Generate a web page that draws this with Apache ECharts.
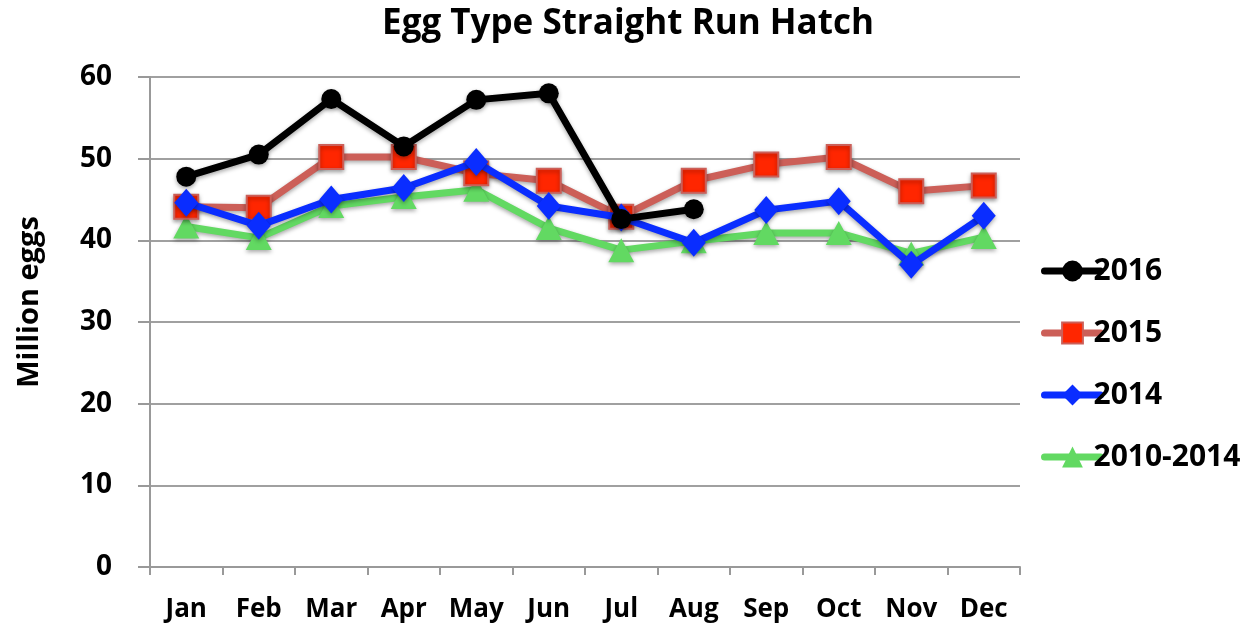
<!DOCTYPE html>
<html><head><meta charset="utf-8">
<script src="https://cdn.jsdelivr.net/npm/echarts@6/dist/echarts.min.js"></script>
<style>html,body{margin:0;padding:0;background:#fff}#c{width:1256px;height:637px}</style>
</head><body><div id="c"></div>
<script>
const months = ['Jan','Feb','Mar','Apr','May','Jun','Jul','Aug','Sep','Oct','Nov','Dec'];
const s2016 = [47.8, 50.5, 57.3, 51.5, 57.2, 58.0, 42.6, 43.8, null, null, null, null];
const s2015 = [44.1, 44.0, 50.2, 50.2, 48.2, 47.3, 42.9, 47.3, 49.3, 50.2, 46.0, 46.7];
const s2014 = [44.6, 41.8, 45.0, 46.4, 49.6, 44.2, 42.8, 39.7, 43.7, 44.8, 37.0, 43.0];
const s1014 = [41.7, 40.3, 44.2, 45.3, 46.2, 41.5, 38.8, 39.9, 40.9, 40.9, 38.4, 40.4];
const yTicks = [0, 10, 20, 30, 40, 50, 60];

const FONT = '"Open Sans", "Noto Sans", sans-serif';
const shadow = {shadowColor:'rgba(0,0,0,0.35)', shadowBlur:4, shadowOffsetY:2};
const chart = echarts.init(document.getElementById('c'), null, {renderer:'canvas'});
chart.setOption({
  animation:false,
  title:{text:'Egg Type Straight Run Hatch', left:'center', top:2,
    textStyle:{fontFamily:FONT, fontWeight:'bold', fontSize:35, color:'#000'}},
  grid:{left:150, right:236, top:77, bottom:70, containLabel:false},
  legend:{orient:'vertical', left:1036, top:251, itemGap:32, itemWidth:56, itemHeight:26,
    lineStyle:{width:7, cap:'round'},
    textStyle:{fontFamily:FONT, fontWeight:'bold', fontSize:30, color:'#000', padding:[0,0,0,-12]},
    data:['2016','2015','2014','2010-2014']},
  xAxis:{type:'category', data:months, boundaryGap:true,
    axisLine:{lineStyle:{color:'#999', width:2}},
    axisTick:{show:true, interval:0, length:8, lineStyle:{color:'#999', width:2}},
    axisLabel:{interval:0, fontFamily:FONT, fontWeight:'bold', fontSize:26, color:'#000', margin:30}},
  yAxis:{type:'value', min:0, max:60, interval:10, name:'Million eggs', nameLocation:'middle', nameGap:106,
    nameTextStyle:{fontFamily:FONT, fontWeight:'bold', fontSize:29, color:'#000', padding:[0,0,0,40]},
    axisLine:{show:true, lineStyle:{color:'#999', width:2}},
    axisTick:{show:true, length:12, lineStyle:{color:'#999', width:2}},
    splitLine:{lineStyle:{color:'#a0a0a0', width:2}},
    axisLabel:{fontFamily:FONT, fontWeight:'bold', fontSize:28, color:'#000', margin:38,
      formatter:v => yTicks.includes(v) ? String(v) : ''}},
  series:[
    {name:'2016', type:'line', data:s2016, symbol:'circle', symbolSize:20, z:5,
      lineStyle:{color:'#000', width:7, ...shadow}, itemStyle:{color:'#000', ...shadow}},
    {name:'2015', type:'line', data:s2015, symbol:'rect', symbolSize:24, z:3,
      lineStyle:{color:'#cc5f58', width:7, ...shadow}, itemStyle:{color:'#ff2600', borderColor:'#cc5f58', borderWidth:2, ...shadow}},
    {name:'2014', type:'line', data:s2014, symbol:'diamond', symbolSize:[24,28], z:4,
      lineStyle:{color:'#0a2dff', width:7, ...shadow}, itemStyle:{color:'#0a2dff', ...shadow}},
    {name:'2010-2014', type:'line', data:s1014, symbol:'triangle', symbolSize:[26,24], z:2,
      lineStyle:{color:'#62d962', width:7, ...shadow}, itemStyle:{color:'#62d962', ...shadow}}
  ]
});
</script></body></html>
